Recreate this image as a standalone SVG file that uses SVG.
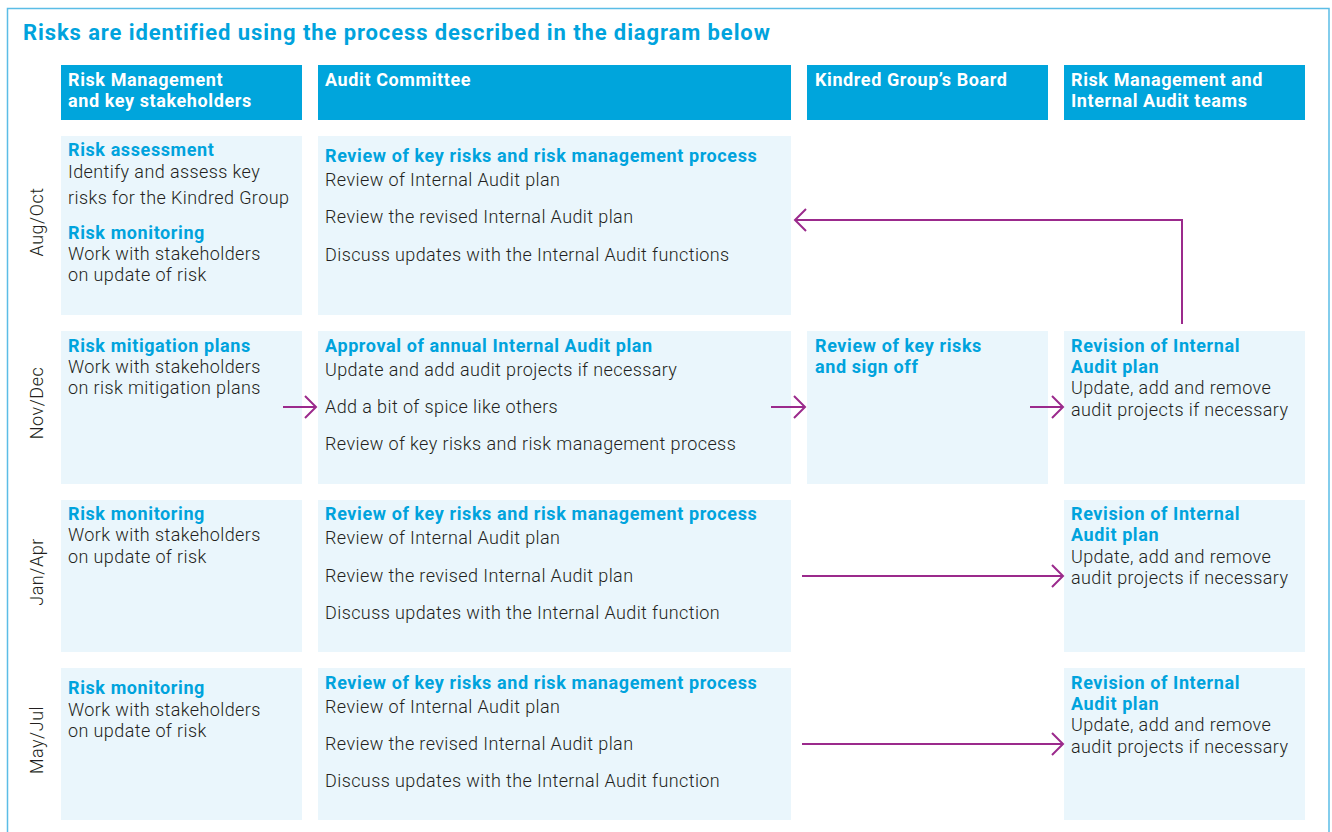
<svg xmlns="http://www.w3.org/2000/svg" width="1332" height="832" viewBox="0 0 1332 832">
<defs>
<style>
.frame{fill:none;stroke:#5bbde6;stroke-width:1.5}
.title{font-family:Roboto,"Liberation Sans",sans-serif;font-weight:700;font-size:22px;letter-spacing:0.9px;fill:#00a3dd}
.hdr{fill:#00a5dc}
.hdrt{font-family:Roboto,"Liberation Sans",sans-serif;font-weight:700;font-size:18px;letter-spacing:0.6px;fill:#ffffff}
.cell{fill:#eaf6fc}
.h{font-family:Roboto,"Liberation Sans",sans-serif;font-weight:700;font-size:18px;letter-spacing:0.6px;fill:#00a3dd}
.t{font-family:Roboto,"Liberation Sans",sans-serif;font-weight:300;font-size:18px;letter-spacing:0.4px;fill:#231f20}
.per{font-family:Roboto,"Liberation Sans",sans-serif;font-weight:300;font-size:18px;letter-spacing:0.5px;fill:#231f20;text-anchor:middle}
.arr{fill:none;stroke:#9b2a8c;stroke-width:2}
</style>
<marker id="ah" markerUnits="userSpaceOnUse" markerWidth="14" markerHeight="24" viewBox="0 0 14 24" refX="12" refY="12" orient="auto">
<path d="M1,1 L12,12 L1,23" fill="none" stroke="#9b2a8c" stroke-width="2"/>
</marker>
</defs>
<rect width="1332" height="832" fill="#ffffff"/>
<path class="frame" d="M7.5,840 L7.5,8.5 L1329,8.5 L1329,840"/>
<text class="title" x="23" y="40">Risks are identified using the process described in the diagram below</text>

<g id="headers">
<g id="hdr-rm"><rect class="hdr" x="61" y="65" width="241" height="55"/><text class="hdrt" x="68" y="86">Risk Management</text><text class="hdrt" x="68" y="107">and key stakeholders</text></g>
<g id="hdr-ac"><rect class="hdr" x="318" y="65" width="473" height="55"/><text class="hdrt" x="325" y="86">Audit Committee</text></g>
<g id="hdr-board"><rect class="hdr" x="807" y="65" width="241" height="55"/><text class="hdrt" x="815" y="86">Kindred Group’s Board</text></g>
<g id="hdr-ia"><rect class="hdr" x="1064" y="65" width="241" height="55"/><text class="hdrt" x="1071" y="86">Risk Management and</text><text class="hdrt" x="1071" y="107">Internal Audit teams</text></g>
</g>

<g id="periods">
<text class="per" transform="translate(43,222) rotate(-90)">Aug/Oct</text>
<text class="per" transform="translate(43,403) rotate(-90)">Nov/Dec</text>
<text class="per" transform="translate(43,572) rotate(-90)">Jan/Apr</text>
<text class="per" transform="translate(43,740) rotate(-90)">May/Jul</text>
</g>

<g id="r1c1"><rect class="cell" x="61" y="136" width="241" height="179"/>
<text class="h" x="68" y="156">Risk assessment</text>
<text class="t" x="68" y="178">Identify and assess key</text>
<text class="t" x="68" y="204">risks for the Kindred Group</text>
<text class="h" x="68" y="239">Risk monitoring</text>
<text class="t" x="68" y="260">Work with stakeholders</text>
<text class="t" x="68" y="281">on update of risk</text>
</g>
<g id="r1c2"><rect class="cell" x="318" y="136" width="473" height="179"/>
<text class="h" x="325" y="162">Review of key risks and risk management process</text>
<text class="t" x="325" y="186">Review of Internal Audit plan</text>
<text class="t" x="325" y="223">Review the revised Internal Audit plan</text>
<text class="t" x="325" y="261">Discuss updates with the Internal Audit functions</text>
</g>

<g id="r2c1"><rect class="cell" x="61" y="331" width="241" height="153"/>
<text class="h" x="68" y="352">Risk mitigation plans</text>
<text class="t" x="68" y="373">Work with stakeholders</text>
<text class="t" x="68" y="394">on risk mitigation plans</text>
</g>
<g id="r2c2"><rect class="cell" x="318" y="331" width="473" height="153"/>
<text class="h" x="325" y="352">Approval of annual Internal Audit plan</text>
<text class="t" x="325" y="376">Update and add audit projects if necessary</text>
<text class="t" x="325" y="413">Add a bit of spice like others</text>
<text class="t" x="325" y="450">Review of key risks and risk management process</text>
</g>
<g id="r2c3"><rect class="cell" x="807" y="331" width="241" height="153"/>
<text class="h" x="815" y="352">Review of key risks</text>
<text class="h" x="815" y="373">and sign off</text>
</g>
<g id="r2c4"><rect class="cell" x="1064" y="331" width="241" height="153"/>
<text class="h" x="1071" y="352">Revision of Internal</text>
<text class="h" x="1071" y="373">Audit plan</text>
<text class="t" x="1071" y="394">Update, add and remove</text>
<text class="t" x="1071" y="416">audit projects if necessary</text>
</g>

<g id="r3c1"><rect class="cell" x="61" y="500" width="241" height="152"/>
<text class="h" x="68" y="520">Risk monitoring</text>
<text class="t" x="68" y="541">Work with stakeholders</text>
<text class="t" x="68" y="563">on update of risk</text>
</g>
<g id="r3c2"><rect class="cell" x="318" y="500" width="473" height="152"/>
<text class="h" x="325" y="520">Review of key risks and risk management process</text>
<text class="t" x="325" y="544">Review of Internal Audit plan</text>
<text class="t" x="325" y="582">Review the revised Internal Audit plan</text>
<text class="t" x="325" y="619">Discuss updates with the Internal Audit function</text>
</g>
<g id="r3c4"><rect class="cell" x="1064" y="500" width="241" height="152"/>
<text class="h" x="1071" y="520">Revision of Internal</text>
<text class="h" x="1071" y="541">Audit plan</text>
<text class="t" x="1071" y="563">Update, add and remove</text>
<text class="t" x="1071" y="584">audit projects if necessary</text>
</g>

<g id="r4c1"><rect class="cell" x="61" y="668" width="241" height="152"/>
<text class="h" x="68" y="694">Risk monitoring</text>
<text class="t" x="68" y="716">Work with stakeholders</text>
<text class="t" x="68" y="737">on update of risk</text>
</g>
<g id="r4c2"><rect class="cell" x="318" y="668" width="473" height="152"/>
<text class="h" x="325" y="689">Review of key risks and risk management process</text>
<text class="t" x="325" y="713">Review of Internal Audit plan</text>
<text class="t" x="325" y="750">Review the revised Internal Audit plan</text>
<text class="t" x="325" y="787">Discuss updates with the Internal Audit function</text>
</g>
<g id="r4c4"><rect class="cell" x="1064" y="668" width="241" height="152"/>
<text class="h" x="1071" y="689">Revision of Internal</text>
<text class="h" x="1071" y="710">Audit plan</text>
<text class="t" x="1071" y="731">Update, add and remove</text>
<text class="t" x="1071" y="753">audit projects if necessary</text>
</g>

<g id="connectors">
<path class="arr" d="M1182,324 L1182,220 L795,220" marker-end="url(#ah)"/>
<path class="arr" d="M283,407 L316,407" marker-end="url(#ah)"/>
<path class="arr" d="M771,407 L805,407" marker-end="url(#ah)"/>
<path class="arr" d="M1030,407 L1063,407" marker-end="url(#ah)"/>
<path class="arr" d="M802,576 L1063,576" marker-end="url(#ah)"/>
<path class="arr" d="M802,744 L1063,744" marker-end="url(#ah)"/>
</g>
</svg>
